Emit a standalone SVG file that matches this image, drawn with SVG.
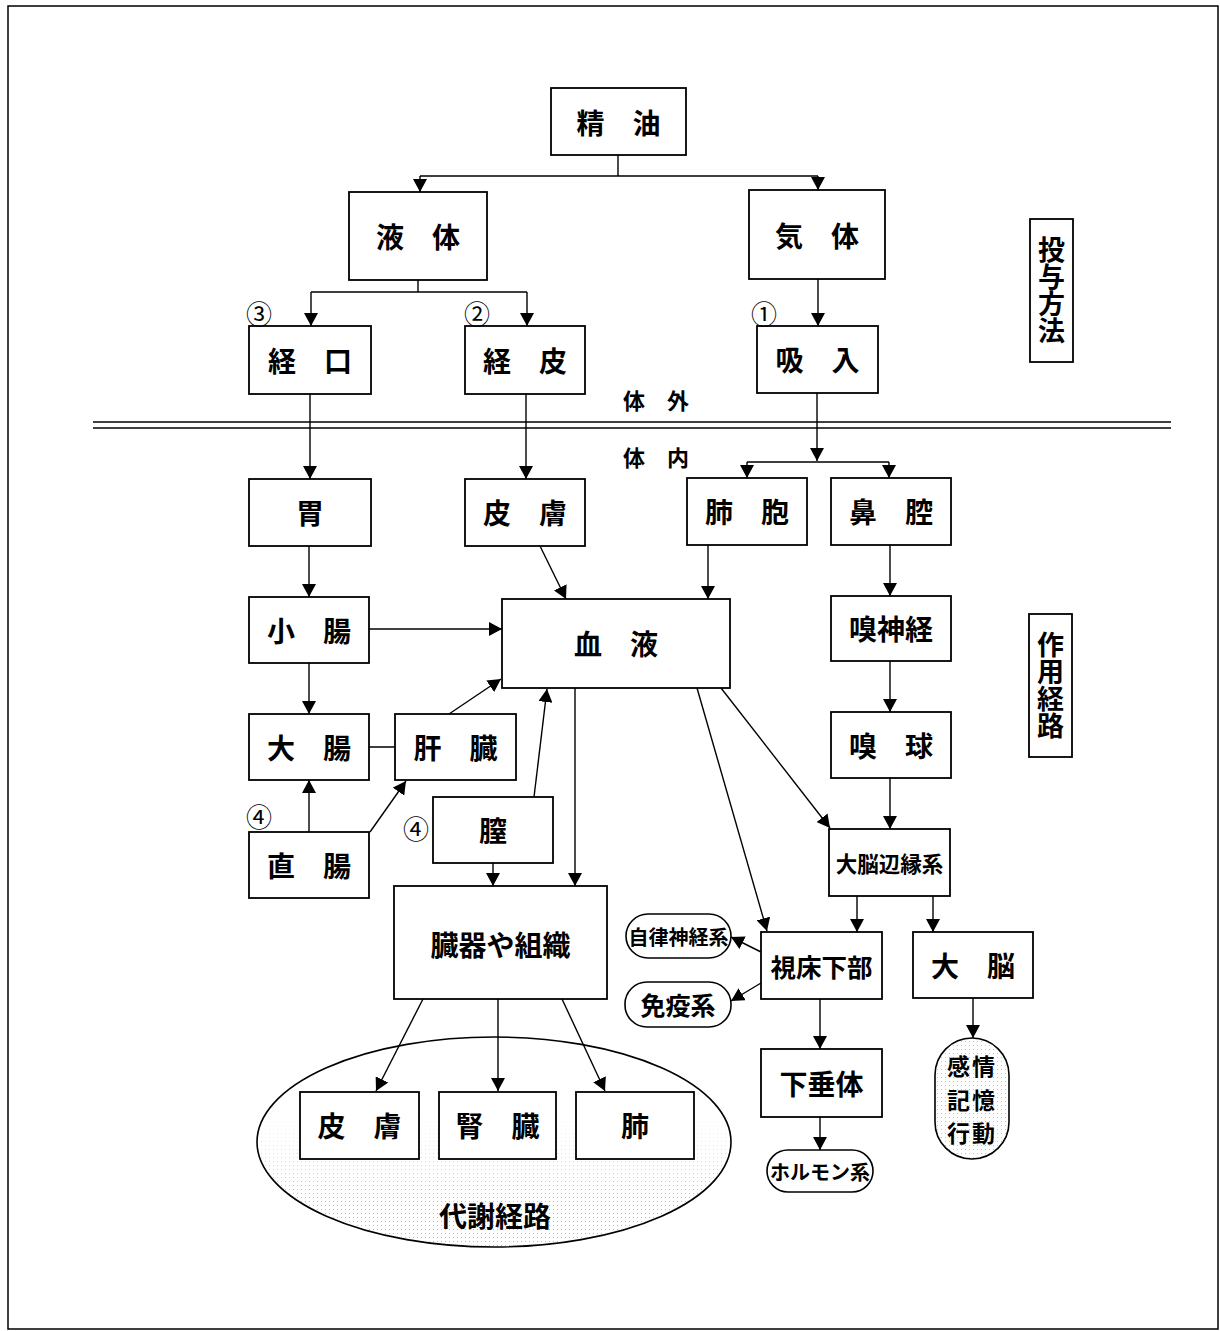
<svg xmlns="http://www.w3.org/2000/svg" width="1220" height="1331" viewBox="0 0 1220 1331">
<style>
.box{fill:#fff;stroke:#000;stroke-width:1.8}
.pill{fill:#fff;stroke:#000;stroke-width:1.6}
.t{font-family:"Noto Sans CJK JP","Noto Sans CJK SC",sans-serif;font-weight:700;text-anchor:middle;dominant-baseline:central;fill:#000}
.n{font-family:"Noto Sans CJK JP","Noto Sans CJK SC",sans-serif;font-weight:400;text-anchor:middle;dominant-baseline:central;fill:#000}
.c{stroke:#000;stroke-width:1.4;fill:none}
.a{stroke:#000;stroke-width:1.4;fill:none;marker-end:url(#arr)}
</style>
<defs>
<marker id="arr" viewBox="0 0 13 14" refX="13" refY="7" markerWidth="13" markerHeight="14" markerUnits="userSpaceOnUse" orient="auto">
<path d="M0,0 L13,7 L0,14 z" fill="#000"/>
</marker>
<pattern id="dots" width="4" height="4" patternUnits="userSpaceOnUse">
<rect x="1" y="1" width="1" height="1" fill="#777"/>
</pattern>
<linearGradient id="fadeG" x1="0" y1="0" x2="0" y2="1">
<stop offset="0.35" stop-color="#000"/>
<stop offset="0.8" stop-color="#fff"/>
</linearGradient>
<mask id="fadeM" maskContentUnits="objectBoundingBox">
<rect x="0" y="0" width="1" height="1" fill="url(#fadeG)"/>
</mask>
</defs>
<rect width="1220" height="1331" fill="#fff"/>
<rect x="8" y="6" width="1210" height="1323" fill="none" stroke="#000" stroke-width="1.5"/>

<g id="metabolic-ellipse">
<ellipse cx="494" cy="1142" rx="237" ry="105" fill="#fff" stroke="#000" stroke-width="1.6"/>
<ellipse cx="494" cy="1142" rx="236" ry="104" fill="url(#dots)" opacity="0.5" mask="url(#fadeM)"/>
<text class="t" x="495" y="1215" font-size="28">代謝経路</text>
</g>

<g id="boundary">
<line x1="93" y1="422" x2="1171" y2="422" stroke="#000" stroke-width="1.6"/>
<line x1="93" y1="428" x2="1171" y2="428" stroke="#000" stroke-width="1.6"/>
<text class="t" x="656" y="399" font-size="22">体　外</text>
<text class="t" x="656" y="456" font-size="22">体　内</text>
</g>

<g id="connectors">
<path class="c" d="M618,155 V176 M420,176 H818 M418,280 V292 M311,292 H527 M747,462 H889 M369,747 H395"/>
<line class="a" x1="420" y1="176" x2="420" y2="192"/>
<line class="a" x1="818" y1="176" x2="818" y2="190"/>
<line class="a" x1="311" y1="292" x2="311" y2="326"/>
<line class="a" x1="527" y1="292" x2="527" y2="326"/>
<line class="a" x1="818" y1="279" x2="818" y2="326"/>
<line class="a" x1="310" y1="394" x2="310" y2="479"/>
<line class="a" x1="526" y1="394" x2="526" y2="479"/>
<line class="a" x1="817" y1="393" x2="817" y2="461"/>
<line class="a" x1="747" y1="462" x2="747" y2="478"/>
<line class="a" x1="889" y1="462" x2="889" y2="478"/>
<line class="a" x1="309" y1="546" x2="309" y2="597"/>
<line class="a" x1="540" y1="546" x2="566" y2="599"/>
<line class="a" x1="708" y1="545" x2="708" y2="599"/>
<line class="a" x1="890" y1="545" x2="890" y2="596"/>
<line class="a" x1="369" y1="629" x2="502" y2="629"/>
<line class="a" x1="309" y1="663" x2="309" y2="714"/>
<line class="a" x1="890" y1="661" x2="890" y2="712"/>
<line class="a" x1="449" y1="714" x2="501" y2="679"/>
<line class="a" x1="309" y1="832" x2="309" y2="780"/>
<line class="a" x1="370" y1="832" x2="406" y2="781"/>
<line class="a" x1="534" y1="797" x2="547" y2="689"/>
<line class="a" x1="575" y1="688" x2="575" y2="886"/>
<line class="a" x1="493" y1="863" x2="493" y2="886"/>
<line class="a" x1="697" y1="688" x2="767" y2="931"/>
<line class="a" x1="721" y1="688" x2="830" y2="828"/>
<line class="a" x1="890" y1="778" x2="890" y2="829"/>
<line class="a" x1="857" y1="896" x2="857" y2="932"/>
<line class="a" x1="933" y1="896" x2="933" y2="932"/>
<line class="a" x1="761" y1="952" x2="731" y2="937"/>
<line class="a" x1="761" y1="983" x2="731" y2="1001"/>
<line class="a" x1="820" y1="999" x2="820" y2="1049"/>
<line class="a" x1="820" y1="1117" x2="820" y2="1150"/>
<line class="a" x1="973" y1="998" x2="973" y2="1038"/>
<line class="a" x1="423" y1="999" x2="376" y2="1091"/>
<line class="a" x1="498" y1="999" x2="498" y2="1091"/>
<line class="a" x1="562" y1="999" x2="605" y2="1091"/>
</g>

<g id="n-seiyu"><rect class="box" x="551" y="88" width="135" height="67"/><text class="t" x="618.5" y="122" font-size="28">精　油</text></g>
<g id="n-ekitai"><rect class="box" x="349" y="192" width="138" height="88"/><text class="t" x="418" y="236" font-size="28">液　体</text></g>
<g id="n-kitai"><rect class="box" x="749" y="190" width="136" height="89"/><text class="t" x="817" y="235" font-size="28">気　体</text></g>
<g id="n-keiko"><rect class="box" x="249" y="326" width="122" height="68"/><text class="t" x="310" y="360" font-size="28">経　口</text></g>
<g id="n-keihi"><rect class="box" x="465" y="326" width="120" height="68"/><text class="t" x="525" y="360" font-size="28">経　皮</text></g>
<g id="n-kyunyu"><rect class="box" x="757" y="326" width="121" height="67"/><text class="t" x="817.5" y="359" font-size="28">吸　入</text></g>
<g id="n-i"><rect class="box" x="249" y="479" width="122" height="67"/><text class="t" x="310" y="512" font-size="28">胃</text></g>
<g id="n-hifu1"><rect class="box" x="465" y="479" width="120" height="67"/><text class="t" x="525" y="512" font-size="28">皮　膚</text></g>
<g id="n-haiho"><rect class="box" x="687" y="478" width="120" height="67"/><text class="t" x="747" y="511" font-size="28">肺　胞</text></g>
<g id="n-bikuu"><rect class="box" x="831" y="478" width="120" height="67"/><text class="t" x="891" y="511" font-size="28">鼻　腔</text></g>
<g id="n-shocho"><rect class="box" x="249" y="597" width="120" height="66"/><text class="t" x="309" y="630" font-size="28">小　腸</text></g>
<g id="n-ketsueki"><rect class="box" x="502" y="599" width="228" height="89"/><text class="t" x="616" y="643" font-size="28">血　液</text></g>
<g id="n-kyushinkei"><rect class="box" x="831" y="596" width="120" height="65"/><text class="t" x="891" y="628" font-size="28">嗅神経</text></g>
<g id="n-daicho"><rect class="box" x="249" y="714" width="120" height="66"/><text class="t" x="309" y="747" font-size="28">大　腸</text></g>
<g id="n-kanzo"><rect class="box" x="395" y="714" width="121" height="66"/><text class="t" x="455.5" y="747" font-size="28">肝　臓</text></g>
<g id="n-kyukyu"><rect class="box" x="831" y="712" width="120" height="66"/><text class="t" x="891" y="745" font-size="28">嗅　球</text></g>
<g id="n-chokucho"><rect class="box" x="249" y="832" width="120" height="66"/><text class="t" x="309" y="865" font-size="28">直　腸</text></g>
<g id="n-chitsu"><rect class="box" x="433" y="797" width="120" height="66"/><text class="t" x="493" y="830" font-size="28">膣</text></g>
<g id="n-henensei"><rect class="box" x="829" y="829" width="121" height="67"/><text class="t" x="889.5" y="862" font-size="21.5">大脳辺縁系</text></g>
<g id="n-zoki"><rect class="box" x="394" y="886" width="213" height="113"/><text class="t" x="500.5" y="944" font-size="28">臓器や組織</text></g>
<g id="n-shishoka"><rect class="box" x="761" y="932" width="121" height="67"/><text class="t" x="821.5" y="965" font-size="25.5">視床下部</text></g>
<g id="n-daino"><rect class="box" x="913" y="932" width="120" height="66"/><text class="t" x="973" y="965" font-size="28">大　脳</text></g>
<g id="n-kasuitai"><rect class="box" x="761" y="1049" width="121" height="68"/><text class="t" x="821.5" y="1083" font-size="28">下垂体</text></g>
<g id="n-hifu2"><rect class="box" x="300" y="1092" width="119" height="67"/><text class="t" x="359.5" y="1125" font-size="28">皮　膚</text></g>
<g id="n-jinzo"><rect class="box" x="439" y="1092" width="117" height="67"/><text class="t" x="497.5" y="1125" font-size="28">腎　臓</text></g>
<g id="n-hai"><rect class="box" x="576" y="1092" width="118" height="67"/><text class="t" x="635" y="1125" font-size="28">肺</text></g>

<g id="n-jiritsu"><rect class="pill" x="626" y="914" width="105" height="44" rx="22"/><text class="t" x="678.5" y="936" font-size="20">自律神経系</text></g>
<g id="n-meneki"><rect class="pill" x="625" y="982" width="106" height="45" rx="22"/><text class="t" x="678" y="1004" font-size="25">免疫系</text></g>
<g id="n-hormone"><rect class="pill" x="767" y="1150" width="106" height="42" rx="21"/><text class="t" x="820" y="1171" font-size="20">ホルモン系</text></g>
<g id="n-kanjo"><rect class="pill" x="935" y="1038" width="74" height="121" rx="37"/><rect x="936" y="1039" width="72" height="119" rx="36" fill="url(#dots)" opacity="0.45"/>
<text class="t" x="972" y="1065" font-size="23" letter-spacing="2">感情</text>
<text class="t" x="972" y="1098.5" font-size="23" letter-spacing="2">記憶</text>
<text class="t" x="972" y="1132" font-size="23" letter-spacing="2">行動</text></g>

<g id="n-toyo"><rect class="box" x="1030" y="219" width="43" height="143"/><text class="t" x="1051.5" y="290.5" font-size="27" style="writing-mode:vertical-rl">投与方法</text></g>
<g id="n-sayo"><rect class="box" x="1029" y="614" width="43" height="143"/><text class="t" x="1050.5" y="685.5" font-size="27" style="writing-mode:vertical-rl">作用経路</text></g>

<g id="markers-num">
<text class="n" x="259" y="312" font-size="26">③</text>
<text class="n" x="477" y="312" font-size="26">②</text>
<text class="n" x="764" y="312" font-size="26">①</text>
<text class="n" x="259" y="815" font-size="26">④</text>
<text class="n" x="416" y="827" font-size="26">④</text>
</g>
</svg>
